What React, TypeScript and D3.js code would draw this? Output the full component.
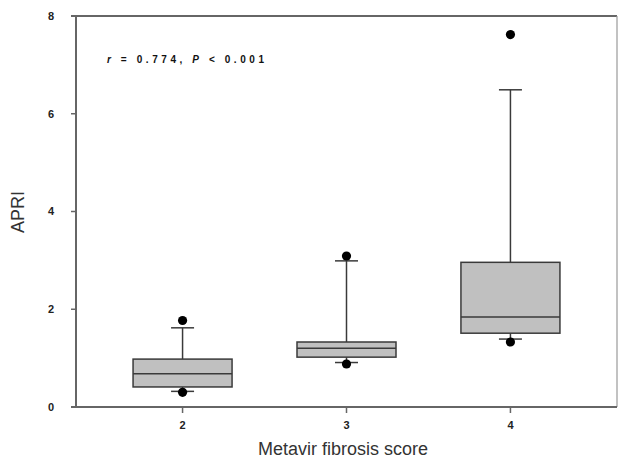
import React from 'react';
import * as d3 from 'd3';

// Metavir score groups and their box statistics (APRI)
const categories = [2, 3, 4];
const q1 = [0.41, 1.02, 1.51];
const medians = [0.68, 1.2, 1.84];
const q3 = [0.98, 1.33, 2.96];
const whiskerLow = [0.32, 0.91, 1.39];
const whiskerHigh = [1.62, 2.99, 6.49];
const outliers = [[1.77, 0.3], [3.09, 0.88], [7.62, 1.33]];
const yTicks = [0, 2, 4, 6, 8];

const App = () => {
    const width = 619, height = 459;
    const margin = { top: 16, right: 2, bottom: 52, left: 76 };
    const w = width - margin.left - margin.right,
        h = height - margin.top - margin.bottom;

    const x = d3.scaleLinear().domain([1.35, 4.65]).range([0, w]);
    const y = d3.scaleLinear().domain([0, 8]).range([h, 0]);

    const boxW = 99, capW = 23;
    const axisColor = '#666';
    const boxStroke = '#3a3a3a';

    return (
        <svg width={width} height={height}
            style={{ position: 'absolute', left: 0, top: 0, background: '#fff' }}>
            <g transform={'translate(' + margin.left + ',' + margin.top + ')'}>
                {/* frame */}
                <line x1={-5} x2={w} y1={0} y2={0} stroke={axisColor} strokeWidth={2} />
                <line x1={w} x2={w} y1={0} y2={h} stroke="#999" strokeWidth={1.2} />
                <line x1={0} x2={0} y1={0} y2={h} stroke={axisColor} strokeWidth={2} />
                <line x1={-5} x2={w} y1={h} y2={h} stroke={axisColor} strokeWidth={2} />

                {yTicks.map(t => (
                    <g key={t} transform={'translate(0,' + y(t) + ')'}>
                        <line x1={-5} x2={0} stroke={axisColor} strokeWidth={1.5} />
                        <text x={-22} dy="0.35em" textAnchor="end" fontFamily="Arial, Liberation Sans"
                            fontWeight="bold" fontSize={11} fill="#222">{t}</text>
                    </g>
                ))}

                {categories.map(c => (
                    <g key={c} transform={'translate(' + x(c) + ',' + h + ')'}>
                        <line y1={0} y2={6} stroke={axisColor} strokeWidth={1.5} />
                        <text y={22} textAnchor="middle" fontFamily="Arial, Liberation Sans"
                            fontWeight="bold" fontSize={11} fill="#222">{c}</text>
                    </g>
                ))}

                {categories.map((c, i) => {
                    const cx = x(c);
                    return (
                        <g key={'box' + c}>
                            <line x1={cx} x2={cx} y1={y(q3[i])} y2={y(whiskerHigh[i])} stroke={boxStroke} strokeWidth={1.5} />
                            <line x1={cx} x2={cx} y1={y(q1[i])} y2={y(whiskerLow[i])} stroke={boxStroke} strokeWidth={1.5} />
                            <line x1={cx - capW / 2} x2={cx + capW / 2} y1={y(whiskerHigh[i])} y2={y(whiskerHigh[i])} stroke={boxStroke} strokeWidth={1.5} />
                            <line x1={cx - capW / 2} x2={cx + capW / 2} y1={y(whiskerLow[i])} y2={y(whiskerLow[i])} stroke={boxStroke} strokeWidth={1.5} />
                            <rect x={cx - boxW / 2} y={y(q3[i])} width={boxW} height={y(q1[i]) - y(q3[i])}
                                fill="#c0c0c0" stroke={boxStroke} strokeWidth={1.5} />
                            <line x1={cx - boxW / 2} x2={cx + boxW / 2} y1={y(medians[i])} y2={y(medians[i])} stroke={boxStroke} strokeWidth={1.5} />
                            {outliers[i].map((o, j) => (
                                <circle key={j} cx={cx} cy={y(o)} r={4.6} fill="#000" />
                            ))}
                        </g>
                    );
                })}

                <text x={31} y={47} fontFamily="Arial, Liberation Sans" fontWeight="bold" fontSize={10}
                    fill="#111" textLength={157} lengthAdjust="spacing">
                    <tspan fontStyle="italic">r</tspan> = 0.774, <tspan fontStyle="italic">P</tspan> &lt; 0.001
                </text>
            </g>

            <text transform="translate(24,212) rotate(-90)" textAnchor="middle"
                fontFamily="Arial, Liberation Sans" fontSize={18} fill="#333">APRI</text>
            <text x={343} y={455} textAnchor="middle"
                fontFamily="Arial, Liberation Sans" fontSize={18} fill="#333">Metavir fibrosis score</text>
        </svg>
    );
};

export default App;
